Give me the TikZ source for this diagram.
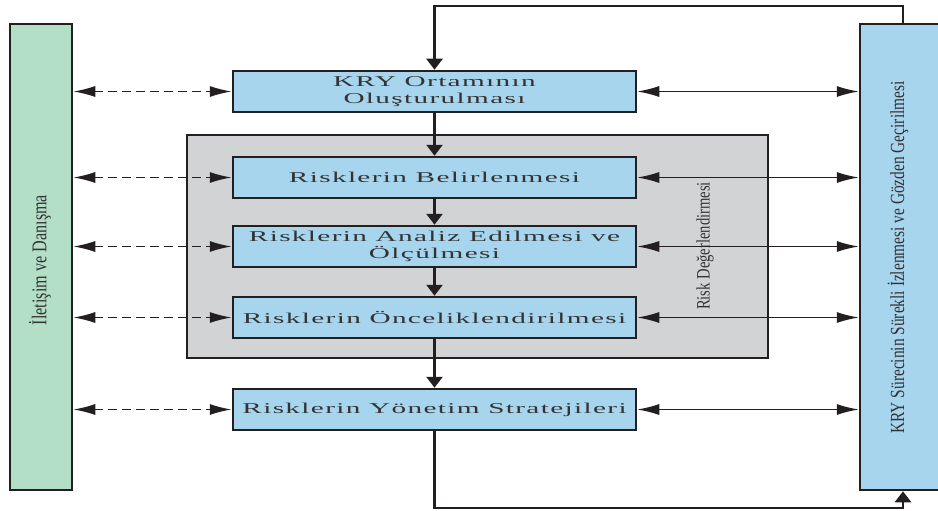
\documentclass[tikz,border=0pt]{standalone}
\usepackage{fontspec}
\setmainfont{Liberation Serif}
\newfontfamily\boxfont[FakeStretch=1.95,LetterSpace=9]{Liberation Serif}
\newfontfamily\narrowfont[FakeStretch=0.77]{Liberation Serif}
\usetikzlibrary{arrows.meta}

\definecolor{stepblue}{HTML}{A8D5EE}
\definecolor{sidegreen}{HTML}{B3DFC7}
\definecolor{groupgray}{HTML}{D2D3D5}
\definecolor{inkdark}{HTML}{231F20}
\definecolor{textdark}{HTML}{333333}

\tikzset{
  stepbox/.style={draw=inkdark, line width=2.5pt, fill=stepblue,
    minimum width=403pt, minimum height=41pt, inner sep=0pt,
    text=textdark, align=center,
    font=\boxfont\fontsize{15}{17.5}\selectfont},
  sidebar/.style={draw=inkdark, line width=2.5pt, inner sep=0pt},
  sidetext/.style={rotate=90, text=textdark, inner sep=0pt},
  flow/.style={draw=inkdark, line width=2.5pt,
    -{Triangle[width=16pt,length=11pt]}},
  dasharrow/.style={draw=inkdark, line width=1.6pt, dash pattern=on 9pt off 5pt,
    {Latex[length=22pt,width=11pt]}-{Latex[length=22pt,width=11pt]}},
  linkarrow/.style={draw=inkdark, line width=1.4pt,
    {Latex[length=22pt,width=11pt]}-{Latex[length=22pt,width=11pt]}},
}

\begin{document}
\begin{tikzpicture}[x=1pt, y=-1pt]
\useasboundingbox (0,0) rectangle (938,511);
\clip (0,0) rectangle (938,511);
\fill[white] (0,0) rectangle (938,511);

% side bars
\node[sidebar, fill=sidegreen, minimum width=62pt, minimum height=466pt] (green) at (41,257) {};
\node[sidebar, fill=stepblue, minimum width=86pt, minimum height=466pt] (blue) at (903,257) {};
\node[sidetext, font=\narrowfont\fontsize{21}{24}\selectfont] (gtext) at (40,260) {İletişim ve Danışma};
\node[sidetext, font=\narrowfont\fontsize{20}{23}\selectfont] (btext) at (898,257.5) {KRY Sürecinin Sürekli İzlenmesi ve Gözden Geçirilmesi};

% risk assessment group
\node[draw=inkdark, line width=2.5pt, fill=groupgray, minimum width=581pt,
  minimum height=223pt, inner sep=0pt] (group) at (477.5,246.5) {};
\node[sidetext, font=\narrowfont\fontsize{19}{22}\selectfont] (gname) at (705,246) {Risk Değerlendirmesi};

% process steps
\node[stepbox] (kry) at (434.5,91.5) {KRY Ortamının\\Oluşturulması};
\node[stepbox] (bel) at (434.5,177.5) {Risklerin Belirlenmesi};
\node[stepbox] (anl) at (434.5,246.5) {Risklerin Analiz Edilmesi ve\\Ölçülmesi};
\node[stepbox] (onc) at (434.5,317.5) {Risklerin Önceliklendirilmesi};
\node[stepbox] (yon) at (434.5,409.5) {Risklerin Yönetim Stratejileri};

% main flow
\draw[flow] (kry) -- (bel);
\draw[flow] (bel) -- (anl);
\draw[flow] (anl) -- (onc);
\draw[flow] (onc) -- (yon);

% feedback loop
\coordinate (top) at (0,6);
\coordinate (bottom) at (0,508);
\draw[flow] (yon.south) -- (yon.south |- bottom) -- (blue.south |- bottom) -- (blue.south);
\draw[flow] (blue.north) -- (blue.north |- top) -- (kry.north |- top) -- (kry.north);

% communication links
\foreach \s in {kry,bel,anl,onc,yon}{
  \draw[dasharrow] (green.east |- \s.west) -- (\s.west);
  \draw[linkarrow] (\s.east) -- (blue.west |- \s.east);
}
\end{tikzpicture}
\end{document}
